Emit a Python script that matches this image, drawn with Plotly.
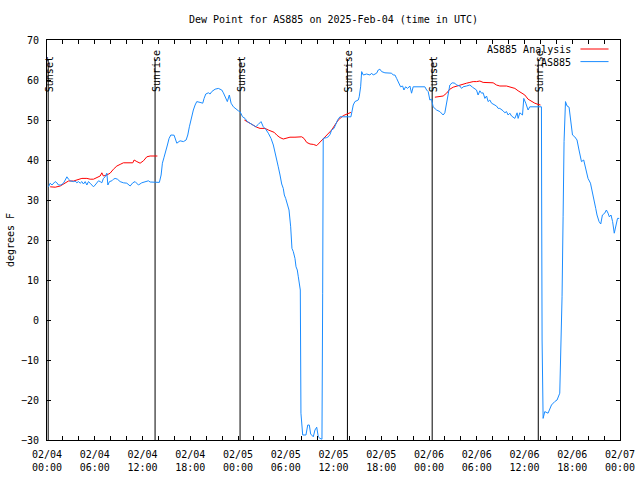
import pandas as pd
import plotly.graph_objects as go

BASE = pd.Timestamp("2025-02-04 00:00")

# ---- Data (hours since 2025-02-04 00:00 UTC, dew point in degrees F) ----
obs_hours = [0.19, 0.40, 0.62, 0.82, 1.03, 1.24, 1.44, 1.75, 2.07, 2.29, 2.50, 2.70, 2.91, 3.33, 3.54,
             3.75, 3.95, 4.17, 4.38, 4.58, 4.80, 5.01, 5.21, 5.42, 5.64, 5.84, 6.05, 6.26, 6.47, 6.68,
             6.89, 7.09, 7.31, 7.52, 7.65, 7.85, 8.15, 8.35, 8.56, 8.85, 9.19, 9.60, 10.03, 10.45, 10.78,
             11.07, 11.29, 11.49, 11.91, 12.33, 12.74, 12.96, 13.58, 14.12, 14.34, 14.50, 14.71, 14.93,
             15.13, 15.34, 15.56, 15.97, 16.31, 16.72, 17.14, 17.48, 17.69, 17.89, 18.14, 18.39, 18.61,
             18.82, 19.23, 19.57, 19.74, 19.95, 20.28, 20.49, 20.70, 21.12, 21.53, 21.96, 22.16, 22.37,
             22.66, 22.91, 23.13, 23.42, 23.75, 24.04, 24.26, 24.57, 24.88, 25.17, 25.51, 25.93, 26.23,
             26.55, 26.89, 27.18, 27.48, 27.81, 28.15, 28.44, 28.65, 28.86, 29.06, 29.28, 29.49, 29.69,
             29.82, 29.99, 30.19, 30.41, 30.62, 30.78, 30.95, 31.16, 31.29, 31.45, 31.58, 31.70, 31.83,
             31.91, 32.00, 32.13, 32.54, 32.76, 32.96, 33.13, 33.46, 33.67, 33.89, 34.09, 34.30, 34.55,
             34.64, 34.71, 35.14, 35.34, 35.56, 35.77, 36.06, 36.27, 36.52, 36.81, 38.19, 38.36, 38.48,
             38.69, 39.11, 39.23, 39.41, 39.54, 39.74, 40.16, 40.58, 40.79, 40.99, 41.42, 41.62, 41.83,
             42.05, 42.46, 42.88, 43.30, 43.50, 43.72, 43.93, 44.26, 44.43, 44.68, 44.85, 45.06, 45.31,
             45.60, 45.81, 46.01, 47.48, 47.70, 47.90, 48.11, 48.32, 48.52, 48.95, 49.37, 49.78, 49.99,
             50.21, 50.41, 50.62, 50.91, 51.25, 51.46, 51.88, 52.09, 52.29, 52.72, 53.13, 53.47, 53.76,
             53.97, 54.17, 54.39, 54.60, 54.80, 55.02, 55.23, 55.43, 55.64, 55.86, 56.27, 56.48, 56.69,
             56.90, 57.31, 57.53, 57.74, 57.94, 58.16, 58.37, 58.79, 59.07, 59.20, 59.41, 59.75, 59.91,
             60.16, 60.45, 60.66, 60.88, 62.13, 62.15, 62.21, 62.34, 62.55, 62.96, 63.18, 63.39, 63.80,
             64.09, 64.43, 64.56, 64.72, 64.85, 64.97, 65.15, 65.35, 65.60, 65.81, 66.03, 66.31, 66.60,
             66.85, 67.16, 67.44, 67.70, 67.98, 68.29, 68.54, 68.70, 68.95, 69.11, 69.37, 69.58, 69.79,
             70.08, 70.29, 70.50, 70.66, 70.87, 71.07, 71.28, 71.49, 71.69, 71.90]
obs_values = [33.3, 34.2, 33.75, 34.3, 34.6, 34.3, 33.75, 33.75, 34.2, 35.0, 35.8, 35.2, 34.8, 34.6, 34.75,
              34.3, 34.6, 34.2, 34.6, 34.0, 34.6, 33.75, 34.6, 34.2, 33.75, 33.3, 33.75, 34.2, 34.8, 34.6,
              34.3, 35.4, 35.8, 36.7, 33.75, 34.6, 34.8, 35.2, 35.4, 35.2, 34.6, 34.3, 34.2, 33.5, 34.3,
              34.6, 34.0, 33.75, 34.3, 34.6, 34.8, 34.5, 34.5, 34.4, 36.25, 39.2, 40.7, 42.1,
              43.75, 45.4, 46.25, 46.2, 44.2, 44.8, 44.6, 45.0, 46.25, 48.3, 50.8, 52.5, 53.75,
              54.6, 54.4, 54.2, 55.4, 56.5, 56.8, 56.5, 57.1, 57.7, 57.9, 57.5, 56.8, 55.8,
              54.6, 56.25, 54.2, 53.3, 52.7, 52.3, 52.1, 50.8, 50.4, 49.6, 49.2, 48.75, 48.3,
              48.9, 49.6, 48.3, 47.7, 46.7, 45.4, 43.75, 42.1, 40.4, 38.3, 36.25, 34.0, 32.9,
              31.25, 30.4, 28.75, 27.5, 23.3, 17.9, 17.1, 15.4, 13.3, 12.5, 10.8, 9.2, 7.5,
              -23.3, -27.1, -28.75, -28.75, -26.25, -26.25, -28.5, -29.2, -27.5, -26.8, -29.2, -29.6, -29.8,
              6.7, 45.4, 45.6, 45.8, 46.4, 47.5, 47.9, 48.9, 50.0, 50.8, 50.8, 52.5, 53.75,
              54.6, 55.0, 55.8, 58.3, 62.1, 61.25, 61.5, 61.25, 61.7, 61.25, 61.7, 62.5, 62.7,
              62.1, 61.8, 61.7, 61.7, 61.25, 61.25, 60.4, 59.2, 58.3, 58.5, 57.5, 58.3, 57.9,
              58.5, 56.7, 58.3, 58.3, 57.5, 57.1, 55.0, 55.2, 53.3, 52.5, 52.1, 51.25, 51.8,
              54.2, 56.7, 58.75, 59.3, 59.2, 58.75, 58.5, 57.9, 58.3, 58.5, 58.75, 58.2, 57.9,
              57.5, 56.25, 57.3, 56.7, 56.8, 55.4, 56.0, 54.6, 55.0, 54.2, 53.75, 53.5, 52.9,
              52.9, 52.3, 51.8, 52.1, 51.25, 51.7, 51.0, 50.4, 51.8, 50.4, 51.8, 51.25, 55.4,
              54.2, 52.5, 53.3, 53.3, 53.3, 33.75, -5.0, -24.6, -22.9, -23.3, -22.1, -21.25, -20.4,
              -20.0, -18.3, -10.0, 5.8, 25.8, 44.6, 54.6, 53.5, 53.2, 50.4, 46.25, 45.8, 45.0,
              42.5, 39.6, 40.0, 37.9, 35.4, 34.2, 32.1, 30.0, 27.9, 26.25, 24.6, 24.0, 26.25,
              26.7, 27.5, 26.7, 25.8, 26.25, 24.6, 21.7, 23.75, 25.4, 25.4]

# Analysis series: three separate segments
ana_hours_1 = [0.40, 1.03, 1.66, 1.87, 2.29, 2.70, 3.33, 3.75, 4.17, 4.38, 5.01, 5.42, 5.84, 6.26, 6.68,
               6.89, 7.09, 7.52, 7.93, 8.35, 8.78, 9.19, 9.60, 10.78, 10.95, 11.29, 11.70, 12.12, 12.54,
               12.96, 13.87]
ana_values_1 = [33.3, 33.2, 33.5, 33.75, 34.3, 34.75, 34.75, 35.0, 35.2, 35.4, 35.4, 35.2, 35.2, 35.7, 36.0,
                36.8, 36.0, 36.25, 36.7, 37.7, 38.5, 38.9, 39.3, 39.3, 40.0, 39.6, 39.2, 39.8, 40.8,
                41.0, 41.0]
ana_hours_2 = [24.80, 25.30, 25.93, 26.35, 26.77, 27.39, 27.81, 28.24, 28.56, 28.86, 29.28, 29.69, 30.12,
               30.53, 31.16, 31.58, 32.00, 32.29, 32.63, 33.05, 33.46, 33.89, 34.30, 34.71, 35.34, 35.77,
               36.18, 36.60, 37.23, 37.85, 38.19]
ana_values_2 = [50.0, 49.4, 48.75, 48.2, 47.9, 47.9, 47.5, 47.25, 46.9, 46.25, 45.6, 45.25, 45.4,
                45.7, 45.7, 45.8, 45.8, 45.4, 44.4, 44.0, 43.9, 43.6, 44.4, 45.25, 46.4, 47.5,
                48.75, 50.0, 51.1, 51.7, 51.9]
ana_hours_3 = [48.74, 49.37, 49.78, 50.21, 50.62, 51.04, 51.46, 51.88, 52.29, 52.72, 53.13, 53.55, 53.97,
               54.39, 54.80, 55.64, 56.06, 56.48, 56.90, 57.74, 58.37, 58.79, 59.20, 59.62, 60.04, 60.45,
               60.88, 61.29, 61.71, 62.01]
ana_values_3 = [55.7, 55.8, 56.0, 56.7, 57.7, 58.2, 58.5, 58.75, 59.0, 59.2, 59.4, 59.6, 59.6,
                59.75, 59.4, 59.4, 59.3, 58.75, 58.5, 58.5, 58.2, 57.9, 57.3, 56.8, 56.25, 55.2,
                54.6, 54.2, 53.9, 53.75]

event_hours = [0.15, 13.58, 24.26, 37.75, 48.40, 61.73]
event_labels = ["Sunset", "Sunrise", "Sunset", "Sunrise", "Sunset", "Sunrise"]

tick_hours = list(range(0, 73, 6))
tick_labels = ["02/04<br>00:00", "02/04<br>06:00", "02/04<br>12:00", "02/04<br>18:00",
               "02/05<br>00:00", "02/05<br>06:00", "02/05<br>12:00", "02/05<br>18:00",
               "02/06<br>00:00", "02/06<br>06:00", "02/06<br>12:00", "02/06<br>18:00",
               "02/07<br>00:00"]

TITLE = "Dew Point for AS885 on 2025-Feb-04 (time in UTC)"
Y_MIN, Y_MAX = -30, 70
EVENT_TOP = 65.25
EVENT_LABEL_Y = 56.5


def to_time(hours):
    return [BASE + pd.Timedelta(hours=h) for h in hours]


FONT = "DejaVu Sans Mono"
RED = "#ff0000"
BLUE = "#1a8cff"

fig = go.Figure()

# event lines
ev_x, ev_y = [], []
for t in to_time(event_hours):
    ev_x += [t, t, None]
    ev_y += [EVENT_TOP, Y_MIN, None]
fig.add_trace(go.Scatter(x=ev_x, y=ev_y, mode="lines", line=dict(color="black", width=1),
                         hoverinfo="skip", showlegend=False))

# analysis (red) with gaps
ax, ay = [], []
for hs, vs in [(ana_hours_1, ana_values_1), (ana_hours_2, ana_values_2), (ana_hours_3, ana_values_3)]:
    ax += to_time(hs) + [None]
    ay += vs + [None]
fig.add_trace(go.Scatter(x=ax, y=ay, mode="lines", name="AS885 Analysis",
                         line=dict(color=RED, width=1), connectgaps=False, showlegend=False))

fig.add_trace(go.Scatter(x=to_time(obs_hours), y=obs_values, mode="lines", name="AS885",
                         line=dict(color=BLUE, width=1), showlegend=False))

annotations = []
for t, lab in zip(to_time(event_hours), event_labels):
    annotations.append(dict(x=t, y=EVENT_LABEL_Y, xref="x", yref="y", text=lab, showarrow=False,
                            textangle=-90, xanchor="center", yanchor="bottom", xshift=1.0,
                            font=dict(family=FONT, size=10, color="black")))

# manual legend (text on the left, line sample on the right, as in gnuplot)
annotations.append(dict(x=0.918, y=0.976, xref="paper", yref="paper", text="AS885 Analysis",
                        showarrow=False, xanchor="right", yanchor="middle",
                        font=dict(family=FONT, size=10, color="black")))
annotations.append(dict(x=0.918, y=0.945, xref="paper", yref="paper", text="AS885",
                        showarrow=False, xanchor="right", yanchor="middle",
                        font=dict(family=FONT, size=10, color="black")))
shapes = [
    dict(type="line", xref="paper", yref="paper", x0=0.931, x1=0.980, y0=0.9775, y1=0.9775,
         line=dict(color=RED, width=1)),
    dict(type="line", xref="paper", yref="paper", x0=0.931, x1=0.980, y0=0.946, y1=0.946,
         line=dict(color=BLUE, width=1)),
]

fig.update_layout(
    width=640, height=480,
    margin=dict(l=47, r=20, t=40, b=40, autoexpand=False),
    paper_bgcolor="white", plot_bgcolor="white",
    font=dict(family=FONT, size=10, color="black"),
    title=dict(text=TITLE, x=0.5, xref="paper", xanchor="center",
               y=1 - 19 / 480, yref="container", yanchor="middle",
               font=dict(family=FONT, size=10, color="black")),
    annotations=annotations,
    shapes=shapes,
    showlegend=False,
)

fig.update_xaxes(
    automargin=False,
    range=[BASE, BASE + pd.Timedelta(hours=72)],
    tickmode="array", tickvals=to_time(tick_hours), ticktext=tick_labels,
    ticks="inside", ticklen=4, tickcolor="black", tickwidth=1,
    ticklabelstandoff=5,
    minor=dict(dtick=2 * 3600 * 1000, tick0=BASE, ticks="inside", ticklen=4, tickcolor="black"),
    showline=True, linecolor="black", linewidth=1, mirror="allticks",
    showgrid=False, zeroline=False,
    tickfont=dict(family=FONT, size=10, color="black"),
)
fig.update_yaxes(
    automargin=False,
    range=[Y_MIN, Y_MAX], dtick=10, tick0=0,
    ticks="inside", ticklen=4, tickcolor="black", tickwidth=1,
    ticklabelstandoff=5,
    showline=True, linecolor="black", linewidth=1, mirror="allticks",
    showgrid=False, zeroline=False,
    tickfont=dict(family=FONT, size=10, color="black"),
    title=dict(text="degrees F", standoff=4, font=dict(family=FONT, size=10, color="black")),
)

fig.write_html("out.html", config={"displayModeBar": False},
               post_script="document.body.style.margin='0';")
